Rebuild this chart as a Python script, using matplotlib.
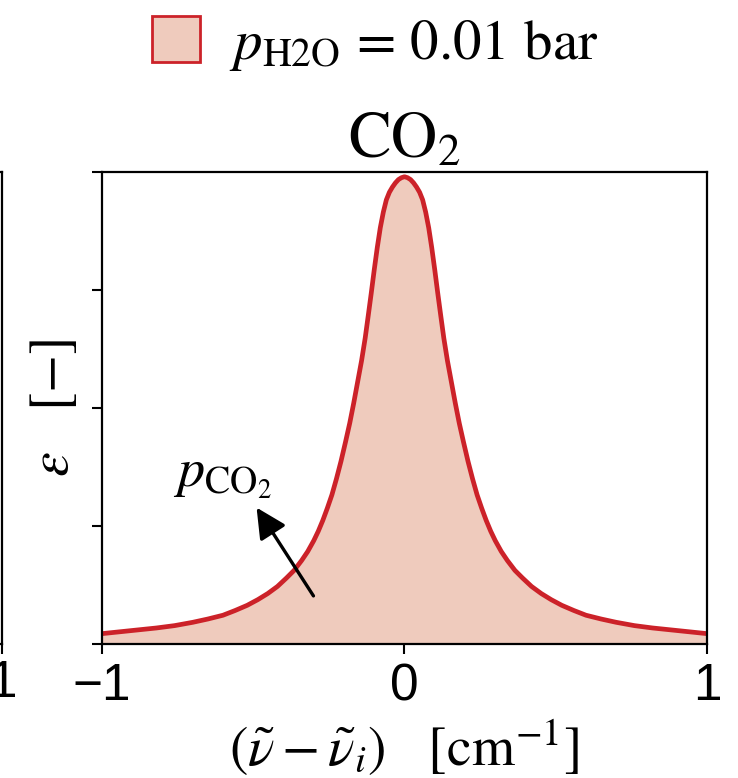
import matplotlib
matplotlib.use('Agg')
import matplotlib.pyplot as plt
from matplotlib.patches import Patch

plt.rcParams['mathtext.fontset'] = 'stix'
plt.rcParams['font.family'] = ['Liberation Sans', 'DejaVu Sans']

# line profile: offset from line centre [cm^-1] vs emissivity (axis fraction)
nu = [-1.000, -0.940, -0.880, -0.820, -0.760, -0.700, -0.650, -0.600, -0.560, -0.520,
      -0.485, -0.452, -0.420, -0.390, -0.365, -0.340, -0.320, -0.300, -0.285, -0.270,
      -0.255, -0.240, -0.225, -0.210, -0.195, -0.181, -0.168, -0.155, -0.142, -0.130,
      -0.120, -0.110, -0.100, -0.090, -0.080, -0.070, -0.060, -0.050, -0.040, -0.030,
      -0.020, -0.010, 0.000,
      0.010, 0.020, 0.030, 0.040, 0.050, 0.060, 0.070, 0.080, 0.090, 0.100,
      0.110, 0.120, 0.130, 0.142, 0.155, 0.168, 0.181, 0.195, 0.210, 0.225,
      0.240, 0.255, 0.270, 0.285, 0.300, 0.320, 0.340, 0.365, 0.390, 0.420,
      0.452, 0.485, 0.520, 0.560, 0.600, 0.650, 0.700, 0.760, 0.820, 0.880,
      0.940, 1.000]
eps = [0.022, 0.026, 0.030, 0.034, 0.039, 0.046, 0.053, 0.061, 0.071, 0.082,
       0.094, 0.107, 0.122, 0.140, 0.156, 0.177, 0.196, 0.219, 0.239, 0.262,
       0.288, 0.316, 0.350, 0.387, 0.428, 0.468, 0.510, 0.555, 0.600, 0.648,
       0.695, 0.743, 0.793, 0.840, 0.882, 0.915, 0.941, 0.957, 0.968, 0.977,
       0.984, 0.988, 0.990,
       0.988, 0.984, 0.977, 0.968, 0.957, 0.941, 0.915, 0.882, 0.840, 0.793,
       0.743, 0.695, 0.648, 0.600, 0.555, 0.510, 0.468, 0.428, 0.387, 0.350,
       0.316, 0.288, 0.262, 0.239, 0.219, 0.196, 0.177, 0.156, 0.140, 0.122,
       0.107, 0.094, 0.082, 0.071, 0.061, 0.053, 0.046, 0.039, 0.034, 0.030,
       0.026, 0.022]

x_ticks = [-1, 0, 1]
x_ticklabels = ['\u22121', '0', '1']
y_ticks = [0, 0.25, 0.5, 0.75, 1.0]

line_col = '#cc2229'
fill_col = '#efcbbd'

fig = plt.figure(figsize=(7.38, 7.78), dpi=100)

# neighbouring panel, only its right edge is visible
ax0 = fig.add_axes([-0.8171, 0.1722, 0.8198, 0.6067])
ax0.set_xlim(-1, 1)
ax0.set_ylim(0, 1)
ax0.set_xticks(x_ticks)
ax0.set_xticklabels(x_ticklabels)
ax0.set_yticks([])
ax0.tick_params(axis='x', labelsize=37, width=1.5, length=7)
for s in ax0.spines.values():
    s.set_linewidth(1.6)

ax = fig.add_axes([0.1382, 0.1722, 0.8198, 0.6067])
ax.fill_between(nu, 0, eps, color=fill_col, lw=0)
ax.plot(nu, eps, color=line_col, lw=3.4, solid_joinstyle='round')
ax.set_xlim(-1, 1)
ax.set_ylim(0, 1)
ax.set_xticks(x_ticks)
ax.set_xticklabels(x_ticklabels)
ax.set_yticks(y_ticks)
ax.set_yticklabels([])
ax.tick_params(axis='both', labelsize=37, width=1.5, length=7)
ax.tick_params(axis='x', pad=6)
for s in ax.spines.values():
    s.set_linewidth(1.6)

ax.set_title(r'CO$_2$', fontsize=46, family='STIXGeneral', pad=10)
ax.set_xlabel(r'$(\tilde{\nu} - \tilde{\nu}_i)$   [cm$^{-1}$]', fontsize=40,
              family='STIXGeneral', labelpad=4)
ax.set_ylabel(r'$\varepsilon$   [$-$]', fontsize=40, family='STIXGeneral', labelpad=5)

ax.annotate('', xy=(-0.494, 0.294), xytext=(-0.296, 0.097),
            arrowprops=dict(arrowstyle='-|>', mutation_scale=46, lw=2.4, color='k'))
ax.text(-0.60, 0.355, r'$p_{\mathrm{CO}_2}$', fontsize=39, ha='center', va='center')

handle = Patch(facecolor=fill_col, edgecolor=line_col, lw=2)
fig.legend([handle], [r'$p_{\mathrm{H2O}}$ = 0.01 bar'], loc='upper center',
           bbox_to_anchor=(0.508, 1.045), frameon=False,
           prop={'family': 'STIXGeneral', 'size': 41},
           handlelength=0.85, handleheight=0.85, handletextpad=0.5)

fig.savefig('out.png', dpi=100)
